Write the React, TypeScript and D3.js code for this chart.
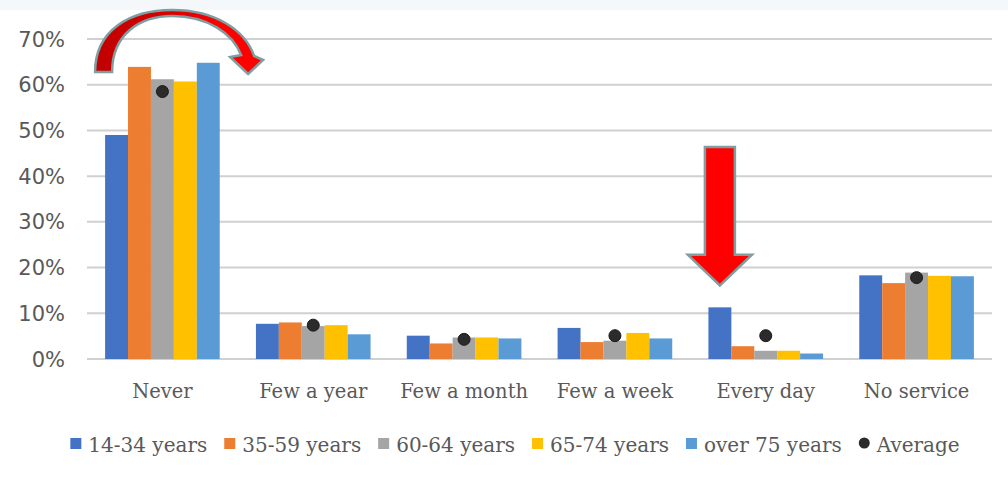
import React, { useEffect, useRef } from "react";
import * as d3 from "d3";

const categories = ["Never", "Few a year", "Few a month", "Few a week", "Every day", "No service"];
const seriesNames = ["14-34 years", "35-59 years", "60-64 years", "65-74 years", "over 75 years"];
const age14to34 = [49.0, 7.7, 5.1, 6.8, 11.3, 18.3];
const age35to59 = [63.9, 8.0, 3.4, 3.7, 2.8, 16.6];
const age60to64 = [61.2, 7.2, 4.7, 4.0, 1.8, 18.9];
const age65to74 = [60.7, 7.4, 4.7, 5.7, 1.8, 18.2];
const over75 = [64.8, 5.4, 4.5, 4.5, 1.2, 18.1];
const average = [58.5, 7.4, 4.3, 5.1, 5.1, 17.8];
const yTicks = [0, 10, 20, 30, 40, 50, 60, 70];
const seriesColors = ["#4472c4", "#ed7d31", "#a5a5a5", "#ffc000", "#5b9bd5"];

export default function App() {
  const ref = useRef<SVGSVGElement>(null);
  useEffect(() => {
    const svg = d3.select(ref.current);
    svg.selectAll("*").remove();
    const W = 1008;
    const H = 479;
    const seriesValues = [age14to34, age35to59, age60to64, age65to74, over75];

    const x0 = d3.scaleBand<string>().domain(categories).range([87, 992]).paddingInner(0.24).paddingOuter(0.12);
    const x1 = d3.scaleBand<string>().domain(seriesNames).range([0, x0.bandwidth()]);
    const y = d3.scaleLinear().domain([0, 70]).range([359, 39]);

    svg.append("rect").attr("x", 0).attr("y", 0).attr("width", W).attr("height", H).attr("fill", "#ffffff");
    svg.append("rect").attr("x", 0).attr("y", 0).attr("width", W).attr("height", 10).attr("fill", "#f4f8fa");

    const defs = svg.append("defs");
    const grad = defs.append("linearGradient").attr("id", "arcGrad").attr("x1", "0%").attr("x2", "100%").attr("y1", "0%").attr("y2", "0%");
    grad.append("stop").attr("offset", "0%").attr("stop-color", "#c00000");
    grad.append("stop").attr("offset", "45%").attr("stop-color", "#d80000");
    grad.append("stop").attr("offset", "75%").attr("stop-color", "#ff0000");
    grad.append("stop").attr("offset", "100%").attr("stop-color", "#ff0000");

    // grid
    svg.append("g")
      .selectAll("line")
      .data(yTicks)
      .join("line")
      .attr("x1", 87)
      .attr("x2", 992)
      .attr("y1", (d) => y(d))
      .attr("y2", (d) => y(d))
      .attr("stroke", "#d0d0d0")
      .attr("stroke-width", 2);

    // y labels
    svg.append("g")
      .selectAll("text")
      .data(yTicks)
      .join("text")
      .attr("x", 65)
      .attr("y", (d) => y(d))
      .attr("dy", "0.36em")
      .attr("text-anchor", "end")
      .attr("font-family", "DejaVu Sans")
      .attr("font-size", 21)
      .attr("fill", "#595959")
      .text((d) => `${d}%`);

    // bars
    const groups = svg.append("g")
      .selectAll("g")
      .data(categories)
      .join("g")
      .attr("transform", (c) => `translate(${x0(c)},0)`);
    groups.selectAll("rect")
      .data((c) => seriesNames.map((s, si) => ({ s, si, v: seriesValues[si][categories.indexOf(c)] })))
      .join("rect")
      .attr("x", (d) => x1(d.s)!)
      .attr("width", x1.bandwidth())
      .attr("y", (d) => y(d.v))
      .attr("height", (d) => y(0) - y(d.v))
      .attr("fill", (d) => seriesColors[d.si]);

    // average dots
    svg.append("g")
      .selectAll("circle")
      .data(categories)
      .join("circle")
      .attr("cx", (c) => x0(c)! + x0.bandwidth() / 2)
      .attr("cy", (c, i) => y(average[i]))
      .attr("r", 6)
      .attr("fill", "#2b2b2b")
      .attr("stroke", "#1a1a1a")
      .attr("stroke-width", 1);

    // category labels
    svg.append("g")
      .selectAll("text")
      .data(categories)
      .join("text")
      .attr("x", (c) => x0(c)! + x0.bandwidth() / 2)
      .attr("y", 398)
      .attr("text-anchor", "middle")
      .attr("font-family", "DejaVu Serif")
      .attr("font-size", 19.5)
      .attr("fill", "#595959")
      .text((c) => c);

    // curved arrow over "Never"
    const bx = x0("Never")!;
    const t = y(70);
    const arcPath = `M ${bx - 10},${t + 33}
      C ${bx - 10},${t - 9} ${bx + 25},${t - 29} ${bx + 67},${t - 29}
      C ${bx + 110},${t - 29} ${bx + 140},${t - 9} ${bx + 149},${t + 17}
      L ${bx + 158},${t + 21}
      L ${bx + 143},${t + 35}
      L ${bx + 125},${t + 18}
      L ${bx + 136},${t + 16}
      C ${bx + 128},${t - 5} ${bx + 103},${t - 23} ${bx + 67},${t - 23}
      C ${bx + 35},${t - 23} ${bx + 7},${t - 5} ${bx + 7},${t + 33} Z`;
    svg.append("path")
      .attr("d", arcPath)
      .attr("fill", "url(#arcGrad)")
      .attr("stroke", "#7f9ea2")
      .attr("stroke-width", 2.5)
      .attr("stroke-linejoin", "miter");

    // down arrow over "Every day"
    const ax = x0("Every day")! + x1("14-34 years")! + x1.bandwidth() / 2;
    const aTop = y(46.4);
    const aHead = y(22.8);
    const aTip = y(16.1);
    const downPath = `M ${ax - 15},${aTop} L ${ax + 15},${aTop} L ${ax + 15},${aHead} L ${ax + 32},${aHead}
      L ${ax},${aTip} L ${ax - 32},${aHead} L ${ax - 15},${aHead} Z`;
    svg.append("path")
      .attr("d", downPath)
      .attr("fill", "#ff0000")
      .attr("stroke", "#7f9ea2")
      .attr("stroke-width", 2.5);

    // legend
    const legendItems = [...seriesNames, "Average"];
    const lg = svg.append("g");
    const items = lg.selectAll("g").data(legendItems).join("g");
    items.append("text")
      .attr("font-family", "DejaVu Serif")
      .attr("font-size", 20)
      .attr("fill", "#595959")
      .attr("y", 452)
      .text((d) => d);
    const widths: number[] = [];
    items.each(function () {
      const tNode = d3.select(this).select("text").node() as SVGTextElement;
      widths.push(tNode.getComputedTextLength());
    });
    const markerW = 11;
    const gapM = 7;
    const gapItem = 17;
    const total = d3.sum(widths) + legendItems.length * (markerW + gapM) + (legendItems.length - 1) * gapItem;
    let cx = 515 - total / 2;
    items.each(function (d, i) {
      const g = d3.select(this);
      if (i < seriesNames.length) {
        g.insert("rect", "text")
          .attr("x", cx)
          .attr("y", 438)
          .attr("width", markerW)
          .attr("height", markerW)
          .attr("fill", seriesColors[i]);
      } else {
        g.insert("circle", "text")
          .attr("cx", cx + markerW / 2)
          .attr("cy", 443)
          .attr("r", 5.5)
          .attr("fill", "#2b2b2b");
      }
      g.select("text").attr("x", cx + markerW + gapM);
      cx += markerW + gapM + widths[i] + gapItem;
    });
  }, []);
  return <svg ref={ref} width={1008} height={479} style={{ position: "absolute", left: 0, top: 0 }} />;
}
